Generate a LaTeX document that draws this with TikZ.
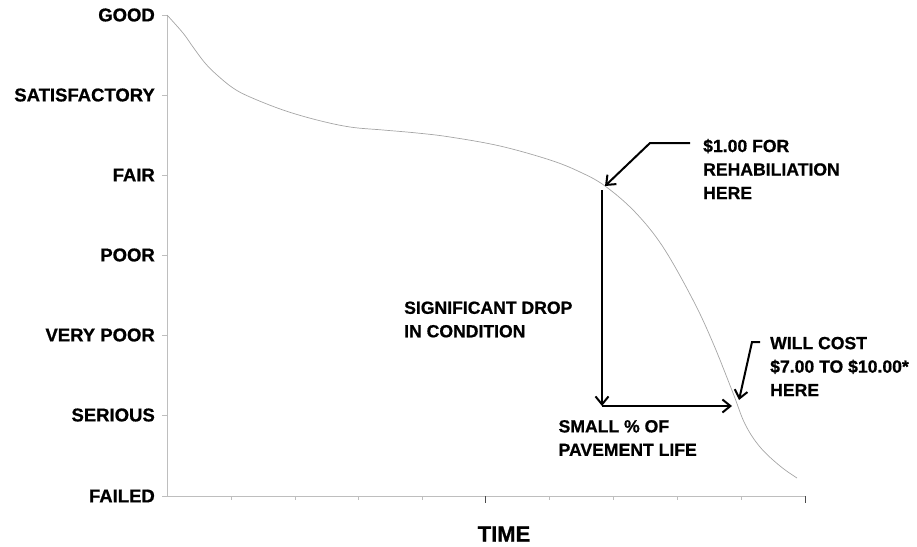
\documentclass[tikz,border=0pt]{standalone}
\usepackage{fontspec}
\setmainfont{Liberation Sans}
\newfontfamily\chartfont{Liberation Sans}[BoldFeatures={FakeBold=0.8}]
\usetikzlibrary{arrows.meta}

\definecolor{axisgray}{RGB}{190,190,190}
\definecolor{curvegray}{RGB}{165,165,165}

\tikzset{
  lbl/.style={font=\chartfont\fontsize{17.6}{23.5}\selectfont\bfseries, inner sep=0pt, align=left},
  ylbl/.style={font=\chartfont\fontsize{18.5}{20}\selectfont\bfseries, inner sep=0pt, anchor=east},
  callout/.style={line width=2pt, -{Straight Barb[length=8pt,width=13pt,line width=2pt]}}
}

\begin{document}
\begin{tikzpicture}[x=1pt, y=-1pt]
    \useasboundingbox (0,0) rectangle (917,546);
    % axes
    \coordinate (o) at (167,496);
    \coordinate (top) at (167,15);
    \coordinate (right) at (805,496);
    \draw [axisgray, line width=0.8pt] (top) -- (o) -- (right);
    \foreach \y/\t [count=\i] in {15/GOOD,95/SATISFACTORY,175/FAIR,255/POOR,335/VERY POOR,415/SERIOUS,496/FAILED} {
      \draw [axisgray, line width=0.8pt] (162,\y) -- (167,\y);
      \node [ylbl] (lev\i) at (155,\y) {\t};
    }
    \foreach \x in {231,295,358,422,549,613,677,741}
      \draw [axisgray, line width=0.8pt] (\x,496) -- (\x,500);
    \foreach \x in {485,805}
      \draw [black!70, line width=0.9pt] (\x,496) -- (\x,503);
    \node [font=\chartfont\fontsize{22}{24}\selectfont\bfseries, inner sep=0pt] (time) at (504,534) {TIME};

    % condition curve
    \draw [curvegray, line width=0.7pt] plot [smooth, tension=0.6] coordinates {
      (167,15) (183,33) (193,47) (205,63) (217,75) (233,88) (250,97) (283,110)
      (317,120) (350,127) (383,130) (417,133) (450,137) (500,146) (550,160)
      (580,172) (605,186) (635,212) (663,247) (693,300)
      (713,343) (733,393) (745,424) (760,447) (780,466) (797,478)};

    % labels
    \node [lbl, anchor=west] (rehab) at (703,169) {\$1.00 FOR\\REHABILIATION\\HERE};
    \node [lbl, anchor=west] (drop) at (404,319.5) {SIGNIFICANT DROP\\IN CONDITION};
    \node [lbl, anchor=west] (cost) at (770,366.5) {WILL COST\\\$7.00 TO \$10.00*\\HERE};
    \node [lbl, anchor=east] (life) at (697,438) {SMALL \% OF\\PAVEMENT LIFE};

    % arrows
    \coordinate (fair) at (605,186);
    \coordinate (l1) at (690,143);
    \coordinate (k1) at (650,143);
    \coordinate (dtop) at (602,190);
    \coordinate (dbot) at (602,406);
    \coordinate (serious) at (732,406);
    \coordinate (l2) at (760,342);
    \coordinate (k2) at (752,342);
    \coordinate (late) at (739,400);
    \draw [callout] (l1) -- (k1) -- (fair);
    \draw [callout] (dtop) -- (dbot);
    \draw [callout] (dbot) -- (serious);
    \draw [callout] (l2) -- (k2) -- (late);
\end{tikzpicture}
\end{document}
